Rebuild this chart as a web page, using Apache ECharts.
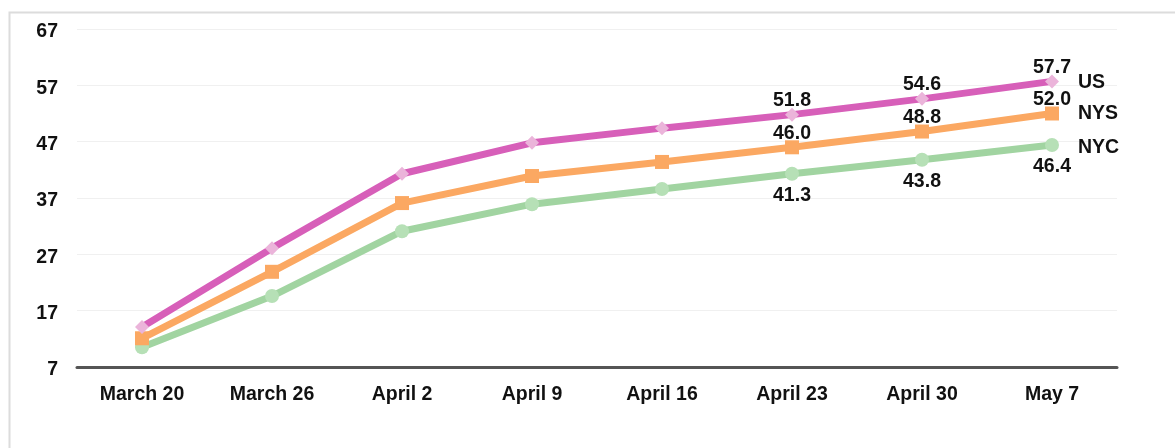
<!DOCTYPE html>
<html>
<head>
<meta charset="utf-8">
<script src="https://cdn.jsdelivr.net/npm/echarts@6/dist/echarts.min.js"></script>
<style>
html,body{margin:0;padding:0;background:#fff;}
#chart{width:1175px;height:448px;}
</style>
</head>
<body>
<div id="chart"></div>
<script>
const categories = ['March 20','March 26','April 2','April 9','April 16','April 23','April 30','May 7'];
const usValues  = [14.1, 28.1, 41.3, 46.8, 49.4, 51.8, 54.6, 57.7];
const nysValues = [12.1, 23.9, 36.1, 40.9, 43.4, 46.0, 48.8, 52.0];
const nycValues = [10.5, 19.6, 31.1, 35.9, 38.6, 41.3, 43.8, 46.4];
const seriesNames = ['US','NYS','NYC'];
const labeledFrom = 5;

const font = '"Liberation Sans", Arial, Helvetica, sans-serif';
const FS = 19.5;

function withLabels(vals, pos) {
  return vals.map((v, i) => i >= labeledFrom
    ? {value: v, label: {show: true, position: pos}}
    : {value: v});
}

function labelStyle(dist) {
  return {
    color: '#111', fontSize: FS, fontWeight: 'bold', fontFamily: font,
    formatter: p => Number(p.value).toFixed(1), distance: dist
  };
}
function endLabelStyle(dy) {
  return {
    show: true, color: '#111', fontSize: FS, fontWeight: 'bold', fontFamily: font,
    formatter: p => p.seriesName, distance: 26, offset: [0, dy]
  };
}

const chart = echarts.init(document.getElementById('chart'), null, {renderer: 'canvas'});
chart.setOption({
  animation: false,
  backgroundColor: '#fff',
  graphic: [{
    type: 'rect', left: 7, top: 10, z: -1,
    shape: {width: 1200, height: 460},
    style: {fill: 'none', stroke: '#dcdcdc', lineWidth: 2}
  }],
  grid: {left: 77, right: 58, top: 29, bottom: 81, containLabel: false},
  xAxis: {
    type: 'category', data: categories, boundaryGap: true,
    axisLine: {lineStyle: {color: '#555', width: 3}},
    axisTick: {show: false},
    axisLabel: {color: '#111', fontSize: FS, fontWeight: 'bold', fontFamily: font, margin: 18}
  },
  yAxis: {
    type: 'value', min: 7, max: 67, interval: 10,
    axisLine: {show: false}, axisTick: {show: false},
    splitLine: {lineStyle: {color: '#f0f0f0', width: 1}},
    axisLabel: {color: '#111', fontSize: FS, fontWeight: 'bold', fontFamily: font, margin: 19,
                verticalAlign: 'top', lineHeight: 6}
  },
  series: [
    {
      name: seriesNames[2], type: 'line', data: withLabels(nycValues, 'bottom'),
      lineStyle: {color: '#a1d4a1', width: 7},
      itemStyle: {color: '#b6e0b6'}, symbol: 'circle', symbolSize: 14,
      label: labelStyle(5), endLabel: endLabelStyle(3), z: 2
    },
    {
      name: seriesNames[1], type: 'line', data: withLabels(nysValues, 'top'),
      lineStyle: {color: '#fba862', width: 7},
      itemStyle: {color: '#fba862'}, symbol: 'rect', symbolSize: 14,
      label: labelStyle(-3), endLabel: endLabelStyle(0), z: 3
    },
    {
      name: seriesNames[0], type: 'line', data: withLabels(usValues, 'top'),
      lineStyle: {color: '#d75fb9', width: 7},
      itemStyle: {color: '#ebb4da'}, symbol: 'diamond', symbolSize: 14,
      label: labelStyle(-3), endLabel: endLabelStyle(1), z: 4
    }
  ]
});
</script>
</body>
</html>
